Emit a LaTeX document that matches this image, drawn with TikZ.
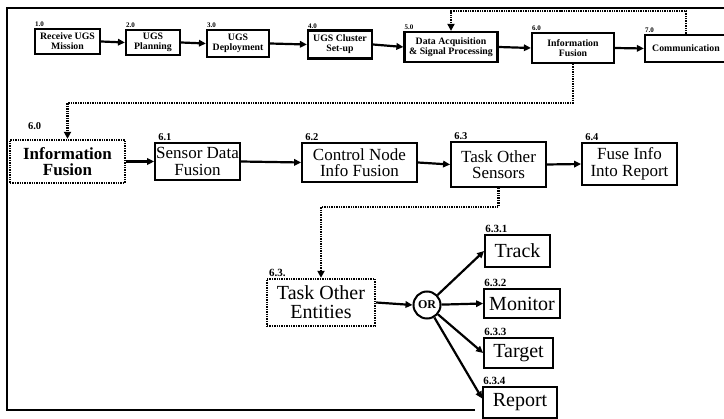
\documentclass[tikz,border=0pt]{standalone}
\usepackage{fontspec}
\setmainfont{Liberation Serif}
\usetikzlibrary{arrows.meta,calc}

\begin{document}
\begin{tikzpicture}[x=1pt,y=-1pt,
  every node/.style={inner sep=0pt, align=center},
  wh/.style 2 args={minimum width=#1pt, minimum height=#2pt},
  topbox/.style={draw, line width=2.2pt, font=\fontsize{9.8}{10}\selectfont\bfseries},
  midbox/.style={draw, line width=1.8pt, font=\fontsize{17}{16.5}\selectfont},
  lowbox/.style={draw, line width=1.8pt, font=\fontsize{20}{19}\selectfont},
  dotbox/.style={draw, line width=2.4pt, dash pattern=on 1.4pt off 1pt},
  toplbl/.style={anchor=south west, inner sep=1pt, font=\fontsize{7}{7}\selectfont\bfseries},
  midlbl/.style={anchor=south west, inner sep=1pt, xshift=3pt, font=\fontsize{10.5}{10.5}\selectfont\bfseries},
  lowlbl/.style={anchor=south west, inner sep=1pt, font=\fontsize{11}{11}\selectfont\bfseries},
  flow/.style={line width=2.2pt, -{Triangle[length=7pt,width=6.5pt]}},
  fb/.style={line width=2.4pt, dash pattern=on 1.4pt off 1pt, -{Triangle[length=7pt,width=7pt]}},
  frame/.style={line width=1.5pt}]

\useasboundingbox (0,0) rectangle (724,419);

% outer frame (open on the right)
\draw[frame] (475,410) -- (7,410) -- (7,8) -- (724,8);

% top-level process chain
\node[topbox, wh={65}{25}, label={[toplbl]north west:1.0}] (rcv) at (67.5,41.5) {Receive UGS\\Mission};
\node[topbox, wh={54}{25}, label={[toplbl]north west:2.0}] (plan) at (153,42.5) {UGS\\Planning};
\node[topbox, wh={62}{27}, label={[toplbl]north west:3.0}] (dep) at (238,43.5) {UGS\\Deployment};
\node[topbox, wh={64}{28}, label={[toplbl]north west:4.0}] (clu) at (340,44.5) {UGS Cluster\\Set-up};
\node[topbox, wh={93}{30}, label={[toplbl]north west:5.0}] (daq) at (451,47) {Data Acquisition\\\& Signal Processing};
\node[topbox, wh={82}{30}, label={[toplbl]north west:6.0}] (fus) at (573,48) {Information\\Fusion};
\node[topbox, wh={82}{27}, label={[toplbl]north west:7.0}] (comm) at (686,48.5) {Communication};

\draw[flow] (rcv.east) -- (plan.west);
\draw[flow] (plan.east) -- (dep.west);
\draw[flow] (dep.east) -- (clu.west);
\draw[flow] (clu.east) -- (daq.west);
\draw[flow] (daq.east) -- (fus.west);
\draw[flow] (fus.east) -- (comm.west);

% feedback from communication
\coordinate (fbtop) at (560,11);
\draw[fb] (comm.north) |- (fbtop) -| (daq.north);

% information fusion breakdown
\node[dotbox, wh={115}{43}, font=\fontsize{17}{16.5}\selectfont\bfseries,
      label={[anchor=south west, inner sep=1pt, xshift=18pt, yshift=8pt, font=\fontsize{10.5}{10.5}\selectfont\bfseries]north west:6.0}] (inf) at (67.5,161.5) {Information\\Fusion};
\node[midbox, wh={85}{37}, label={[midlbl]north west:6.1}] (sdf) at (197.5,161.5) {Sensor Data\\Fusion};
\node[midbox, wh={115}{39}, label={[midlbl]north west:6.2}] (cnf) at (359.5,162.5) {Control Node\\Info Fusion};
\node[midbox, wh={95}{45}, label={[midlbl]north west:6.3}] (tos) at (498.5,164.5) {Task Other\\Sensors};
\node[midbox, wh={95}{42}, label={[midlbl]north west:6.4}] (fir) at (629.5,164) {Fuse Info\\Into Report};

\coordinate (fbmid) at (300,103);
\draw[fb] (fus.south) |- (fbmid) -| (inf.north);

\draw[flow] (inf.east) -- (sdf.west);
\draw[flow] (sdf.east) -- (cnf.west);
\draw[flow] (cnf.east) -- (tos.west);
\draw[flow] (tos.east) -- (fir.west);

% tasking of other entities
\node[dotbox, wh={108}{47}, font=\fontsize{20}{19}\selectfont,
      label={[lowlbl, xshift=2pt]north west:6.3.}] (toe) at (321,302.5) {Task Other\\Entities};
\coordinate (fblow) at (400,207);
\draw[fb] (tos.south) |- (fblow) -| (toe.north);

\node[draw, circle, line width=2pt, minimum size=27pt, font=\fontsize{12}{12}\selectfont\bfseries] (or) at (427,305) {OR};

\node[lowbox, wh={65}{32}, label={[lowlbl]north west:6.3.1}] (trk) at (517.5,251) {Track};
\node[lowbox, wh={76}{29}, label={[lowlbl]north west:6.3.2}] (mon) at (522,303.5) {Monitor};
\node[lowbox, wh={69}{30}, label={[lowlbl]north west:6.3.3}] (tgt) at (518.5,353) {Target};
\node[lowbox, wh={74}{31}, label={[lowlbl]north west:6.3.4}] (rep) at (520,402.5) {Report};

\draw[flow] (toe.east) -- (or.west);
\draw[flow] (or) -- (trk.west);
\draw[flow] (or) -- (mon.west);
\draw[flow] (or) -- (tgt.west);
\draw[flow] (or) -- ([yshift=4pt]rep.west);

\end{tikzpicture}
\end{document}
